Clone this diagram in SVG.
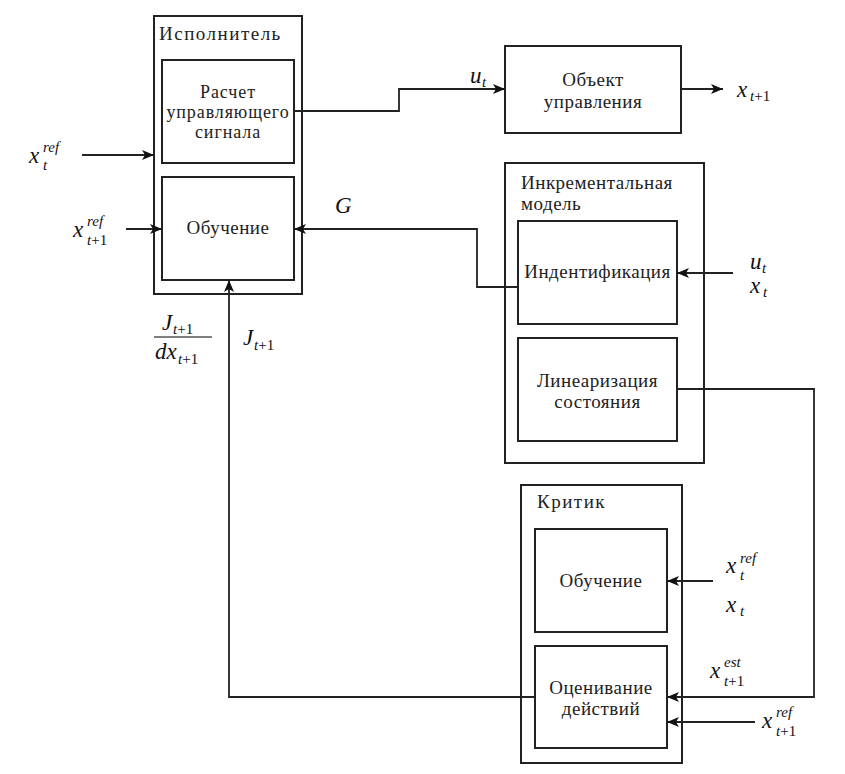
<svg xmlns="http://www.w3.org/2000/svg" width="845" height="774" viewBox="0 0 845 774">
<style>
.box{fill:#fff;stroke:#222;stroke-width:2}
.lbl{font-family:"Liberation Serif","Times New Roman",serif;font-size:19px;letter-spacing:0.5px;fill:#222}
.t{letter-spacing:1.5px}
.sm{font-size:18px;letter-spacing:0.9px}
.c{text-anchor:middle}
.m{font-family:"Liberation Serif","Times New Roman",serif;font-style:italic;font-size:23px;fill:#111}
.s{font-family:"Liberation Serif","Times New Roman",serif;font-style:italic;font-size:15px;fill:#111}
.n{font-style:normal}
.ln{fill:none;stroke:#222;stroke-width:1.8}
</style>
<defs>
<marker id="arr" viewBox="0 0 12 10" refX="12" refY="5" markerWidth="12" markerHeight="10" orient="auto" markerUnits="userSpaceOnUse">
<path d="M0,0 L12,5 L0,10 L3,5 z" fill="#111"/>
</marker>
</defs>
<rect width="845" height="774" fill="#fff"/>

<g id="actor">
<rect class="box" x="154" y="16" width="148" height="278"/>
<text class="lbl t" x="159" y="40">Исполнитель</text>
</g>
<g id="actor-control">
<rect class="box" x="162" y="60" width="132" height="103"/>
<text class="lbl sm c" x="228" y="98">Расчет</text>
<text class="lbl sm c" x="228" y="118">управляющего</text>
<text class="lbl sm c" x="228" y="138">сигнала</text>
</g>
<g id="actor-learning">
<rect class="box" x="162" y="177" width="132" height="103"/>
<text class="lbl c" x="228" y="234">Обучение</text>
</g>
<g id="plant">
<rect class="box" x="505" y="46" width="176" height="87"/>
<text class="lbl c" x="593" y="86">Объект</text>
<text class="lbl c" x="593" y="108">управления</text>
</g>
<g id="model">
<rect class="box" x="505" y="163" width="199" height="300"/>
<text class="lbl" x="521" y="189">Инкрементальная</text>
<text class="lbl" x="521" y="210">модель</text>
</g>
<g id="model-ident">
<rect class="box" x="518" y="221" width="159" height="103"/>
<text class="lbl c" x="597.5" y="278">Индентификация</text>
</g>
<g id="model-lin">
<rect class="box" x="518" y="338" width="159" height="103"/>
<text class="lbl c" x="597.5" y="387">Линеаризация</text>
<text class="lbl c" x="597.5" y="408">состояния</text>
</g>
<g id="critic">
<rect class="box" x="521" y="485" width="161" height="278"/>
<text class="lbl t" x="537" y="508">Критик</text>
</g>
<g id="critic-learning">
<rect class="box" x="535" y="529" width="132" height="103"/>
<text class="lbl c" x="601" y="587">Обучение</text>
</g>
<g id="critic-eval">
<rect class="box" x="535" y="646" width="132" height="102"/>
<text class="lbl c" x="601" y="694">Оценивание</text>
<text class="lbl c" x="601" y="715">действий</text>
</g>

<g id="connectors">
<path class="ln" d="M82,155 H154" marker-end="url(#arr)"/>
<path class="ln" d="M126,229 H162" marker-end="url(#arr)"/>
<path class="ln" d="M294,111 H399 V89 H505" marker-end="url(#arr)"/>
<path class="ln" d="M681,89 H723" marker-end="url(#arr)"/>
<path class="ln" d="M518,287 H477 V229 H294" marker-end="url(#arr)"/>
<path class="ln" d="M733,273 H677" marker-end="url(#arr)"/>
<path class="ln" d="M677,389 H814 V697 H667" marker-end="url(#arr)"/>
<path class="ln" d="M713,581 H667" marker-end="url(#arr)"/>
<path class="ln" d="M755,722 H667" marker-end="url(#arr)"/>
<path class="ln" d="M535,697 H229 V280" marker-end="url(#arr)"/>
<line x1="154" y1="337" x2="212" y2="337" stroke="#555" stroke-width="1.5"/>
</g>

<g id="labels">
<text class="m" x="29" y="163">x</text><text class="s" x="43" y="152">ref</text><text class="s" x="43" y="170">t</text>
<text class="m" x="73" y="237">x</text><text class="s" x="87" y="226">ref</text><text class="s" x="87" y="245">t<tspan class="n">+1</tspan></text>
<text class="m" x="335" y="213">G</text>
<text class="m" x="470" y="83">u</text><text class="s" x="482" y="87">t</text>
<text class="m" x="737" y="97">x</text><text class="s" x="750" y="101">t<tspan class="n">+1</tspan></text>
<text class="m" x="750" y="269">u</text><text class="s" x="762" y="273">t</text>
<text class="m" x="750" y="293">x</text><text class="s" x="763" y="297">t</text>
<text class="m" x="726" y="573">x</text><text class="s" x="740" y="563">ref</text><text class="s" x="740" y="580">t</text>
<text class="m" x="726" y="612">x</text><text class="s" x="740" y="616">t</text>
<text class="m" x="710" y="678">x</text><text class="s" x="724" y="667">est</text><text class="s" x="724" y="686">t<tspan class="n">+1</tspan></text>
<text class="m" x="762" y="728">x</text><text class="s" x="776" y="717">ref</text><text class="s" x="776" y="736">t<tspan class="n">+1</tspan></text>
<text class="m" x="162" y="330">J</text><text class="s" x="173" y="334">t<tspan class="n">+1</tspan></text>
<text class="m" x="155" y="359">dx</text><text class="s" x="178" y="364">t<tspan class="n">+1</tspan></text>
<text class="m" x="243" y="345">J</text><text class="s" x="254" y="350">t<tspan class="n">+1</tspan></text>
</g>
</svg>
